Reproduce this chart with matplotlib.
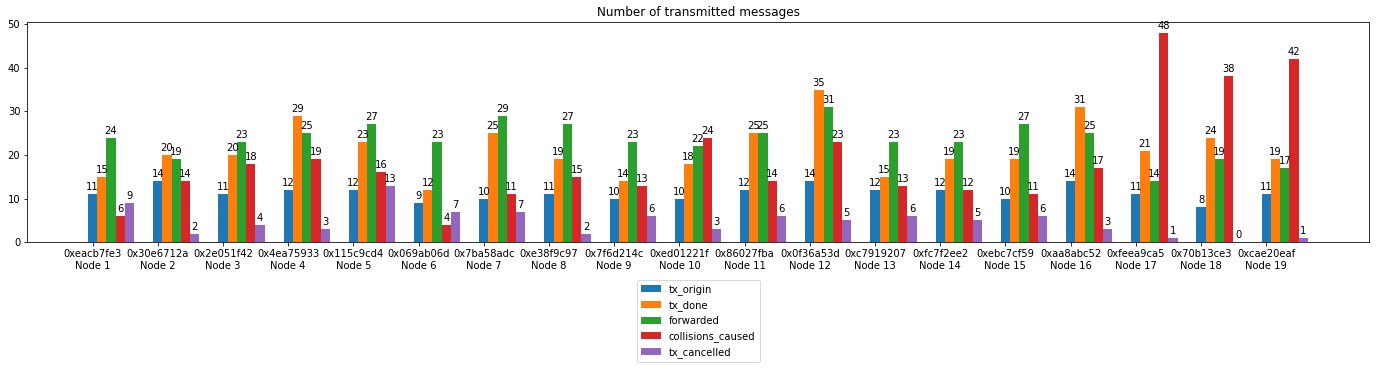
import numpy as np
import matplotlib
matplotlib.use('Agg')
import matplotlib.pyplot as plt

node_ids = ['0xeacb7fe3', '0x30e6712a', '0x2e051f42', '0x4ea75933', '0x115c9cd4',
            '0x069ab06d', '0x7ba58adc', '0xe38f9c97', '0x7f6d214c', '0xed01221f',
            '0x86027fba', '0x0f36a53d', '0xc7919207', '0xfc7f2ee2', '0xebc7cf59',
            '0xaa8abc52', '0xfeea9ca5', '0x70b13ce3', '0xcae20eaf']
node_names = ['Node %d' % (i + 1) for i in range(len(node_ids))]

tx_origin = [11, 14, 11, 12, 12, 9, 10, 11, 10, 10, 12, 14, 12, 12, 10, 14, 11, 8, 11]
tx_done = [15, 20, 20, 29, 23, 12, 25, 19, 14, 18, 25, 35, 15, 19, 19, 31, 21, 24, 19]
forwarded = [24, 19, 23, 25, 27, 23, 29, 27, 23, 22, 25, 31, 23, 23, 27, 25, 14, 19, 17]
collisions_caused = [6, 14, 18, 19, 16, 4, 11, 15, 13, 24, 14, 23, 13, 12, 11, 17, 48, 38, 42]
tx_cancelled = [9, 2, 4, 3, 13, 7, 7, 2, 6, 3, 6, 5, 6, 5, 6, 3, 1, 0, 1]

series = [('tx_origin', tx_origin), ('tx_done', tx_done), ('forwarded', forwarded),
          ('collisions_caused', collisions_caused), ('tx_cancelled', tx_cancelled)]

fig = plt.figure(figsize=(1376 / 72, 369 / 72), dpi=72)
ax = fig.add_axes([27.3 / 1376, 1 - 242.3 / 369, 1342 / 1376, 220 / 369])

x = np.arange(len(node_ids))
width = 0.142
for i, (name, vals) in enumerate(series):
    bars = ax.bar(x + i * width, vals, width, label=name)
    ax.bar_label(bars, padding=2)

ax.set_xticks(x)
ax.set_xticklabels([a + '\n' + b for a, b in zip(node_ids, node_names)])
ax.set_xlim(-1, 19.58)
ax.set_title('Number of transmitted messages')
ax.legend(loc='upper center', bbox_to_anchor=(0.5, -0.15))

fig.savefig('out.png', dpi=72)
